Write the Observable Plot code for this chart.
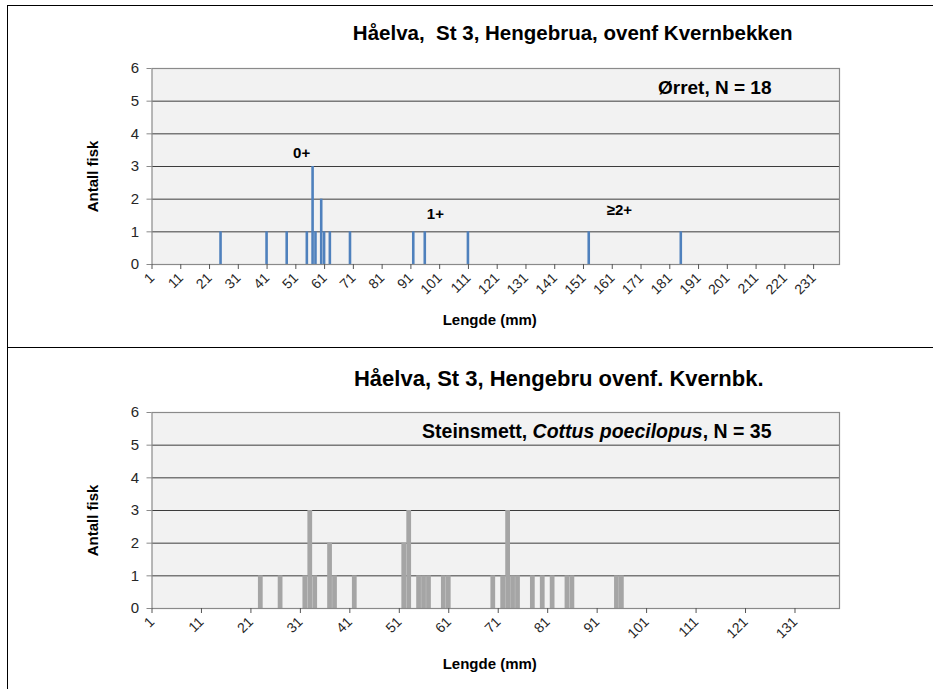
<!DOCTYPE html>
<html><head><meta charset="utf-8">
<script src="https://cdn.jsdelivr.net/npm/d3@7"></script>
<script src="https://cdn.jsdelivr.net/npm/@observablehq/plot@0.6"></script>
<style>
body{margin:0;background:#fff;font-family:"Liberation Sans",Arial,sans-serif;}
#page{position:relative;width:933px;height:689px;overflow:hidden;background:#fff;}
.box{position:absolute;left:7px;top:5px;width:960px;height:720px;border-left:1px solid #000;border-top:1px solid #000;}
.sep{position:absolute;left:7px;top:347px;width:940px;height:0;border-top:1px solid #000;}
#c1,#c2{position:absolute;left:0;}
#c1{top:0;}
#c2{top:347px;}
svg{overflow:visible;}
svg text{white-space:pre;}
</style></head>
<body>
<div id="page"><div class="box"></div><div class="sep"></div><div id="c1"></div><div id="c2"></div></div>
<script>
// ---- data ----
const troutLength = [25, 41, 48, 55, 57, 58, 60, 61, 63, 70, 92, 96, 111, 153, 185];
const troutCount  = [1, 1, 1, 1, 3, 1, 2, 1, 1, 1, 1, 1, 1, 1, 1];
const sculpinLength = [23, 27, 32, 33, 34, 37, 38, 42, 52, 53, 55, 56, 57, 60, 61, 70, 72, 73, 74, 75, 78, 80, 82, 85, 86, 95, 96];
const sculpinCount  = [1, 1, 1, 3, 1, 2, 1, 1, 2, 3, 1, 1, 1, 1, 1, 1, 1, 3, 1, 1, 1, 1, 1, 1, 1, 1, 1];
const topTicks = [1, 11, 21, 31, 41, 51, 61, 71, 81, 91, 101, 111, 121, 131, 141, 151, 161, 171, 181, 191, 201, 211, 221, 231];
const bottomTicks = [1, 11, 21, 31, 41, 51, 61, 71, 81, 91, 101, 111, 121, 131];
const yTicks = [0, 1, 2, 3, 4, 5, 6];
const gridTicks = [1, 2, 3, 4, 5];
const ageLabels = ["0+", "1+", "≥2+"];
const ageLabelLength = [53, 99.5, 163.5];
const ageLabelCount = [3.4, 1.55, 1.65];
const titleTop = "Håelva,  St 3, Hengebrua, ovenf Kvernbekken";
const titleBottom = "Håelva, St 3, Hengebru ovenf. Kvernbk.";
const speciesTop = "Ørret, N = 18";
const speciesBottom = ["Steinsmett, ", "Cottus poecilopus", ", N = 35"];
const yLabel = "Antall fisk";
const xLabel = "Lengde (mm)";

const FONT = "Liberation Sans, Arial, sans-serif";

function histo({lengths, counts, xDomain, ticks, color, half, height, marginTop, marginBottom, title, titleSize, titleDx, titleDy, species, speciesSize, ann}) {
  const data = lengths.map((mm, i) => ({mm, n: counts[i]}));
  const marks = [
    Plot.frame({fill: "#f2f2f2"}),
    Plot.gridY(gridTicks, {stroke: "#3c3c3c", strokeOpacity: 1, strokeWidth: 1}),
    Plot.rectY(data, {x1: d => d.mm - half, x2: d => d.mm + half, y1: 0, y2: "n", fill: color, inset: 0}),
    Plot.frame({stroke: "#8a8a8a", strokeWidth: 1.2}),
    Plot.axisY(yTicks, {tickSize: 5, tickPadding: 8, stroke: "#8a8a8a", fill: "#262626", fontSize: 15, label: null}),
    Plot.axisX(ticks, {tickSize: 5, tickRotate: -45, tickPadding: 6, stroke: "#555", fill: "#262626", fontSize: 14, label: null}),
    Plot.text([title], {frameAnchor: "top", lineAnchor: "middle", dx: titleDx, dy: titleDy, fontSize: titleSize, fontWeight: "bold", fill: "#000"}),
    Plot.text([species], {frameAnchor: "top-right", textAnchor: "end", lineAnchor: "middle", dx: -68, dy: 19.3, fontSize: speciesSize, fontWeight: "bold", fill: "#000"}),
    Plot.text([yLabel], {frameAnchor: "left", textAnchor: "middle", lineAnchor: "middle", dx: -59, dy: 10, rotate: -90, fontSize: 15, fontWeight: "bold", fill: "#000"}),
    Plot.text([xLabel], {frameAnchor: "bottom", lineAnchor: "middle", dx: -6, dy: 56, fontSize: 15, fontWeight: "bold", fill: "#000"})
  ];
  if (ann) {
    marks.push(Plot.text(ageLabels.map((t, i) => ({t, x: ageLabelLength[i], y: ageLabelCount[i]})),
      {x: "x", y: "y", text: "t", fontSize: 15, fontWeight: "bold", fill: "#000"}));
  }
  return Plot.plot({
    width: 933, height,
    marginLeft: 151.5, marginRight: 94, marginTop, marginBottom,
    x: {type: "linear", domain: xDomain, axis: null},
    y: {domain: [0, 6], axis: null},
    style: {fontFamily: FONT, background: "transparent", color: "#000", overflow: "visible"},
    marks
  });
}

const c1 = histo({
  lengths: troutLength, counts: troutCount, xDomain: [1, 240], ticks: topTicks,
  color: "#4f81bd", half: 0.45, height: 347, marginTop: 68, marginBottom: 83,
  title: titleTop, titleSize: 20.5, titleDx: 77, titleDy: -35, species: speciesTop, speciesSize: 19, ann: true
});
document.getElementById("c1").appendChild(c1);

const c2 = histo({
  lengths: sculpinLength, counts: sculpinCount, xDomain: [1, 140], ticks: bottomTicks,
  color: "#a5a5a5", half: 0.48, height: 342, marginTop: 65, marginBottom: 81,
  title: titleBottom, titleSize: 22, titleDx: 63, titleDy: -34, species: speciesBottom.join(""), speciesSize: 19.5, ann: false
});
document.getElementById("c2").appendChild(c2);

// italicise the species name
const full = speciesBottom.join("");
c2.querySelectorAll("text").forEach(t => {
  if (t.textContent === full) {
    t.textContent = "";
    const ns = "http://www.w3.org/2000/svg";
    speciesBottom.forEach((s, i) => {
      const ts = document.createElementNS(ns, "tspan");
      ts.textContent = s;
      if (i === 1) ts.setAttribute("font-style", "italic");
      t.appendChild(ts);
    });
  }
});
</script>
</body></html>
